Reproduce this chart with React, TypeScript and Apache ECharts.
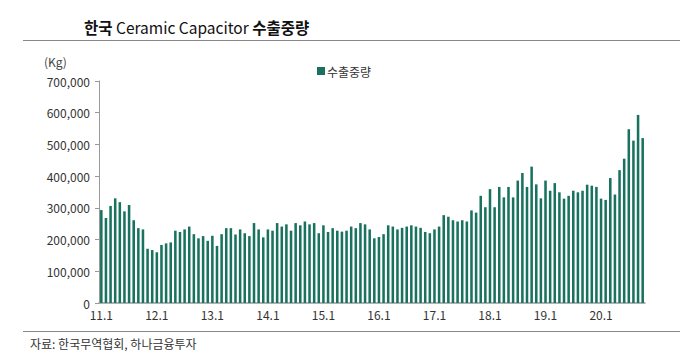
import React, { useEffect, useRef } from "react";
import * as echarts from "echarts";

const years = ["11", "12", "13", "14", "15", "16", "17", "18", "19", "20"];
const categories: string[] = [];
years.forEach((y) => {
  for (let m = 1; m <= 12; m++) categories.push(`${y}.${m}`);
});
const seriesName = "수출중량";
const exportKg: number[] = [
  // 2011
  293000, 268000, 306000, 330000, 318000, 289000, 309000, 261000, 236000, 232000, 171000, 167000,
  // 2012
  160000, 183000, 188000, 191000, 228000, 224000, 232000, 241000, 217000, 204000, 211000, 196000,
  // 2013
  212000, 180000, 217000, 236000, 236000, 216000, 232000, 220000, 211000, 252000, 232000, 207000,
  // 2014
  232000, 228000, 252000, 241000, 248000, 228000, 252000, 245000, 257000, 248000, 252000, 220000,
  // 2015
  245000, 224000, 236000, 228000, 225000, 228000, 241000, 236000, 252000, 248000, 232000, 204000,
  // 2016
  208000, 217000, 245000, 241000, 232000, 237000, 241000, 245000, 241000, 237000, 224000, 220000,
  // 2017
  232000, 241000, 277000, 272000, 261000, 257000, 261000, 257000, 292000, 285000, 338000, 302000,
  // 2018
  359000, 302000, 366000, 333000, 366000, 333000, 386000, 410000, 366000, 430000, 374000, 330000,
  // 2019
  386000, 354000, 378000, 349000, 329000, 338000, 354000, 349000, 354000, 373000, 370000, 366000,
  // 2020
  329000, 325000, 394000, 342000, 419000, 455000, 548000, 512000, 593000, 520000,
];
const xCats = categories.slice(0, exportKg.length);
const yTicks = [0, 100000, 200000, 300000, 400000, 500000, 600000, 700000];

const FONT = "'Noto Sans CJK KR', 'Noto Sans', sans-serif";
const BAR = "#18725f";

export default function App() {
  const ref = useRef<HTMLDivElement>(null);
  useEffect(() => {
    if (!ref.current) return;
    const chart = echarts.init(ref.current, undefined, { renderer: "svg" });
    chart.setOption({
      animation: false,
      textStyle: { fontFamily: FONT },
      title: {
        text: "{k|한국} {e|Ceramic Capacitor} {k|수출중량}",
        left: 79,
        top: 14,
        textStyle: {
          fontFamily: FONT,
          fontSize: 15.5,
          color: "#111",
          rich: {
            k: { fontFamily: FONT, fontSize: 15.5, fontWeight: "bold", color: "#111" },
            e: { fontFamily: FONT, fontSize: 15.5, fontWeight: "normal", color: "#111" },
          },
        },
      },
      legend: {
        data: [seriesName],
        left: 312,
        top: 60,
        icon: "rect",
        itemWidth: 8,
        itemHeight: 8,
        itemGap: 4,
        textStyle: { fontFamily: FONT, fontSize: 12, color: "#333", padding: [0, 0, 0, -3] },
      },
      graphic: [
        { type: "line", shape: { x1: 23, y1: 40.5, x2: 680, y2: 40.5 }, style: { stroke: "#888", lineWidth: 1 } },
        { type: "line", shape: { x1: 23, y1: 331.5, x2: 680, y2: 331.5 }, style: { stroke: "#888", lineWidth: 1 } },
        { type: "text", left: 44, top: 55, style: { text: "(Kg)", fontFamily: FONT, fontSize: 12, fill: "#444" } },
        { type: "text", left: 30, top: 337, style: { text: "자료: 한국무역협회, 하나금융투자", fontFamily: FONT, fontSize: 12, fill: "#333" } },
      ],
      grid: { left: 99, right: 35, top: 81, bottom: 59, containLabel: false },
      xAxis: {
        type: "category",
        data: xCats,
        boundaryGap: true,
        axisLine: { lineStyle: { color: "#999", width: 1.5 } },
        axisTick: {
          alignWithLabel: true,
          interval: (i: number) => i % 12 === 0,
          length: 4,
          lineStyle: { color: "#999" },
        },
        axisLabel: {
          interval: (i: number) => i % 12 === 0,
          fontFamily: FONT,
          fontSize: 12,
          color: "#333",
          margin: 5,
        },
      },
      yAxis: {
        type: "value",
        min: 0,
        max: 700000,
        interval: 100000,
        axisLine: { show: true, lineStyle: { color: "#999" } },
        axisTick: { show: true, length: 4, lineStyle: { color: "#999" } },
        splitLine: { show: false },
        axisLabel: {
          fontFamily: FONT,
          fontSize: 12,
          color: "#333",
          margin: 9,
          formatter: (v: number) => (yTicks.includes(v) ? v.toLocaleString("en-US") : ""),
        },
      },
      series: [
        {
          name: seriesName,
          type: "bar",
          data: exportKg,
          barCategoryGap: "45%",
          itemStyle: { color: BAR },
        },
      ],
    });
    return () => chart.dispose();
  }, []);
  return (
    <div
      ref={ref}
      style={{ position: "absolute", left: 0, top: 0, width: 680, height: 362, background: "#fff" }}
    />
  );
}
